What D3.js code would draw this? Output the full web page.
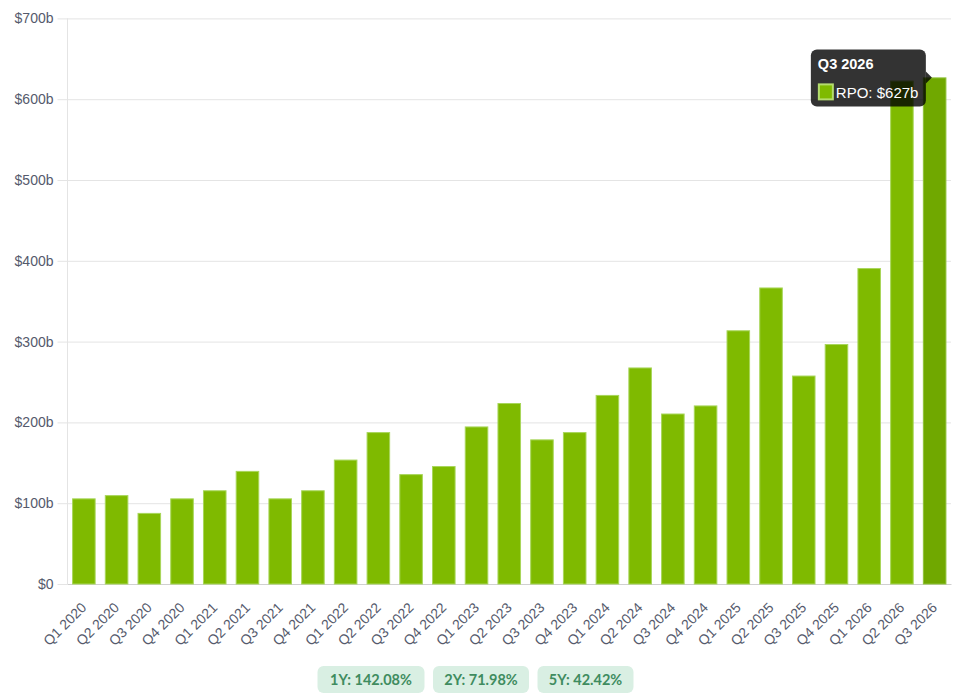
<!DOCTYPE html>
<html>
<head>
<meta charset="utf-8">
<script src="https://cdn.jsdelivr.net/npm/d3@7"></script>
<style>
  html, body { margin: 0; padding: 0; background: #fff; }
  svg { display: block; }
  .tick text { font-family: "Liberation Sans", Arial, sans-serif; }
</style>
</head>
<body>
<svg id="chart" width="956" height="698"></svg>
<script>
// ============================================================
//  Data
// ============================================================

const quarters = [
  'Q1 2020', 'Q2 2020', 'Q3 2020', 'Q4 2020',
  'Q1 2021', 'Q2 2021', 'Q3 2021', 'Q4 2021',
  'Q1 2022', 'Q2 2022', 'Q3 2022', 'Q4 2022',
  'Q1 2023', 'Q2 2023', 'Q3 2023', 'Q4 2023',
  'Q1 2024', 'Q2 2024', 'Q3 2024', 'Q4 2024',
  'Q1 2025', 'Q2 2025', 'Q3 2025', 'Q4 2025',
  'Q1 2026', 'Q2 2026', 'Q3 2026'
];
const rpo = [
  106, 110, 88, 106,
  116, 140, 106, 116,
  154, 188, 136, 146,
  195, 224, 179, 188,
  234, 268, 211, 221,
  314, 367, 258, 297,
  391, 623, 627
];
const yTicks = [0, 100, 200, 300, 400, 500, 600, 700];
const growthBadges = ['1Y: 142.08%', '2Y: 71.98%', '5Y: 42.42%'];
const hoverIndex = 26; // Q3 2026 is highlighted with the tooltip

// ============================================================
//  Scales & axes
// ============================================================

const svg = d3.select('#chart');
const plot = { left: 67.5, right: 951, top: 18.4, bottom: 584 };
const textColor = '#555a6c';
const gridColor = '#e4e4e4';

const x = d3.scaleBand().domain(quarters).range([plot.left, plot.right]).paddingInner(0.28).paddingOuter(0.14);
const y = d3.scaleLinear().domain([0, 700]).range([plot.bottom, plot.top]);

// horizontal grid with small tick stubs to the left of the axis
svg.append('g')
  .attr('transform', `translate(${plot.left},0)`)
  .call(d3.axisLeft(y).tickValues(yTicks).tickSize(-(plot.right - plot.left)).tickSizeOuter(0).tickPadding(14).tickFormat(d => `$${d}${d ? 'b' : ''}`))
  .call(g => g.select('.domain').remove())
  .call(g => g.selectAll('.tick line').attr('stroke', gridColor).attr('x1', -10))
  .call(g => g.selectAll('.tick text').attr('fill', textColor).attr('font-size', 14));

// vertical axis line
svg.append('line')
  .attr('x1', plot.left).attr('x2', plot.left)
  .attr('y1', plot.top).attr('y2', plot.bottom)
  .attr('stroke', gridColor);

// x axis labels rotated 45°
const xAxis = svg.append('g')
  .attr('transform', `translate(0,${plot.bottom})`)
  .call(d3.axisBottom(x).tickSize(0).tickSizeOuter(0))
  .call(g => g.select('.domain').attr('stroke', '#d0d0d0'));
xAxis.selectAll('.tick text')
  .attr('fill', textColor)
  .attr('font-size', 14)
  .attr('text-anchor', 'end')
  .attr('transform', 'translate(0,21) rotate(-45)')
  .attr('dy', '0.35em')
  .attr('y', 0);

// ============================================================
//  Bars
// ============================================================

svg.append('g')
  .selectAll('rect')
  .data(rpo)
  .join('rect')
  .attr('x', (d, i) => x(quarters[i]) + 0.5)
  .attr('y', d => y(d) + 0.5)
  .attr('width', x.bandwidth() - 1)
  .attr('height', d => plot.bottom - y(d) - 0.5)
  .attr('fill', (d, i) => i === hoverIndex ? '#70a800' : '#7fba00')
  .attr('stroke', (d, i) => i === hoverIndex ? '#8fc23a' : '#a8d65a')
  .attr('stroke-width', 1);

// ============================================================
//  Tooltip
// ============================================================

const tipX = x(quarters[hoverIndex]) + 3;
const tipY = y(rpo[hoverIndex]);
const tipW = 115, tipH = 57;
const tip = svg.append('g').attr('transform', `translate(${tipX - tipW},${tipY - 28})`);

tip.append('rect')
  .attr('width', tipW).attr('height', tipH)
  .attr('rx', 6)
  .attr('fill', 'rgba(0,0,0,0.8)');
tip.append('path')
  .attr('d', `M${tipW},${22} L${tipW + 6},${28} L${tipW},${34} Z`)
  .attr('fill', 'rgba(0,0,0,0.8)');
tip.append('text')
  .attr('x', 7).attr('y', 20)
  .attr('fill', '#fff')
  .attr('font-family', '"Liberation Sans", Arial, sans-serif')
  .attr('font-weight', 'bold')
  .attr('font-size', 14.5)
  .text(quarters[hoverIndex]);
tip.append('rect')
  .attr('x', 8).attr('y', 35)
  .attr('width', 14).attr('height', 15)
  .attr('fill', '#7fba00')
  .attr('stroke', '#b4dc6e')
  .attr('stroke-width', 2);
tip.append('text')
  .attr('x', 25).attr('y', 48.5)
  .attr('fill', '#fff')
  .attr('font-family', '"Liberation Sans", Arial, sans-serif')
  .attr('font-size', 15)
  .text(`RPO: $${rpo[hoverIndex]}b`);

// ============================================================
//  Growth badges
// ============================================================

const badgeWidths = [107, 96, 96];
let bx = 317.5;
growthBadges.forEach((label, i) => {
  const g = svg.append('g').attr('transform', `translate(${bx},666)`);
  g.append('rect')
    .attr('width', badgeWidths[i]).attr('height', 27)
    .attr('rx', 6)
    .attr('fill', '#d9efe3');
  g.append('text')
    .attr('x', badgeWidths[i] / 2).attr('y', 19)
    .attr('text-anchor', 'middle')
    .attr('fill', '#3f8c5f')
    .attr('font-family', 'Lato, sans-serif')
    .attr('font-weight', 'bold')
    .attr('font-size', 14.5)
    .text(label);
  bx += badgeWidths[i] + 8.5;
});
</script>
</body>
</html>
